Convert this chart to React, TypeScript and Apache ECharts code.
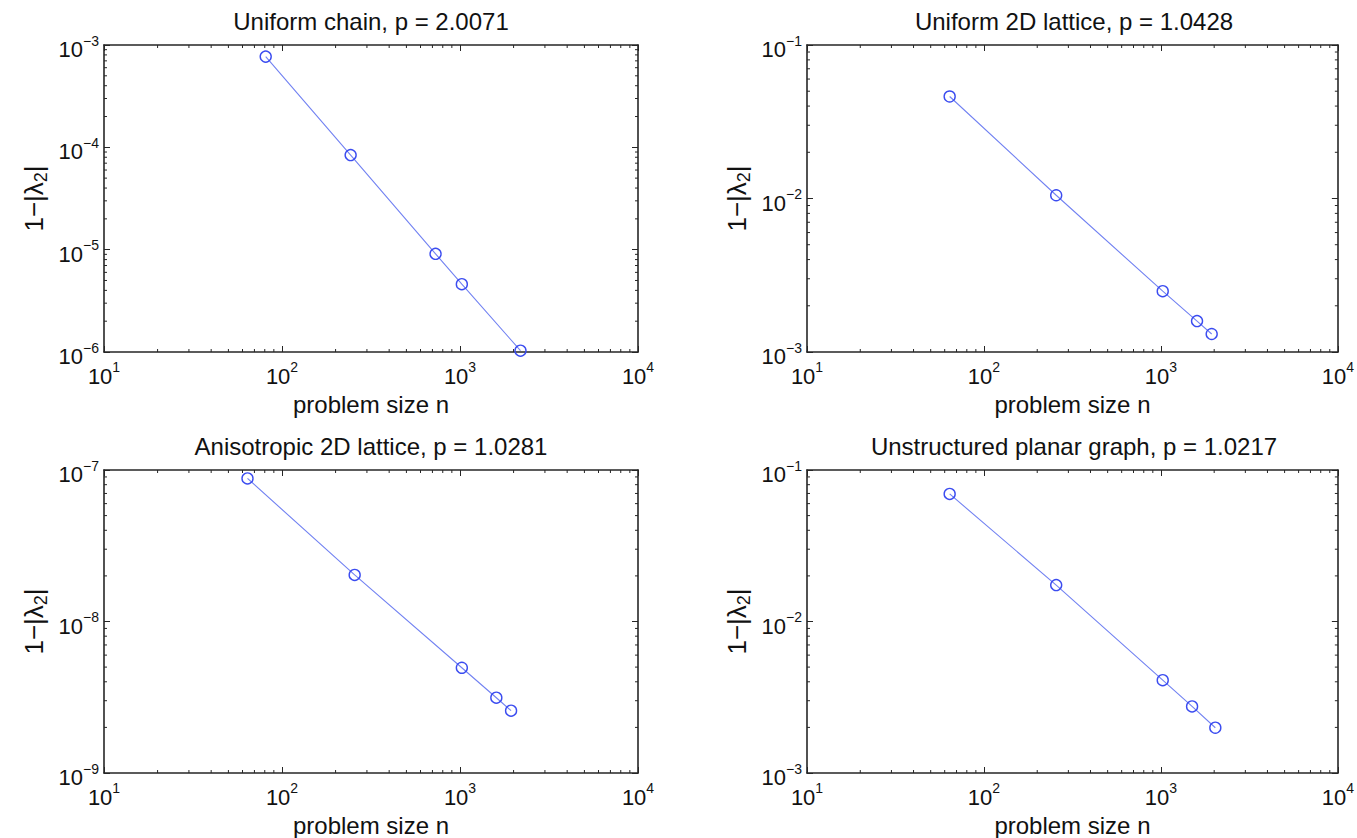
import React, { useEffect, useRef } from "react";
import * as echarts from "echarts";

// ---- data ----
const titles = [
  "Uniform chain, p = 2.0071",
  "Uniform 2D lattice, p = 1.0428",
  "Anisotropic 2D lattice, p = 1.0281",
  "Unstructured planar graph, p = 1.0217",
];
const chainN = [81, 243, 729, 1024, 2187];
const chainGap = [7.7e-4, 8.4e-5, 9.1e-6, 4.6e-6, 1.03e-6];
const latticeN = [64, 256, 1024, 1600, 1936];
const latticeGap = [0.0462, 0.0105, 0.00249, 0.00159, 0.00131];
const anisoN = [64, 256, 1024, 1600, 1936];
const anisoGap = [8.8e-8, 2.03e-8, 4.95e-9, 3.14e-9, 2.58e-9];
const planarN = [64, 256, 1024, 1500, 2030];
const planarGap = [0.0695, 0.0174, 0.0041, 0.00275, 0.00199];
const xRange = [10, 10000];
const yRanges = [
  [1e-6, 1e-3],
  [1e-3, 1e-1],
  [1e-9, 1e-7],
  [1e-3, 1e-1],
];
const xName = "problem size n";

const FONT = "'Liberation Sans', Arial, Helvetica, sans-serif";
const TXT = "#111";
const AX = "#262626";
const LINE = "#7282f2";
const MARK = "#3b4cf0";

const panels = [
  { n: chainN, v: chainGap, left: 104, top: 45, h: 307 },
  { n: latticeN, v: latticeGap, left: 807, top: 45, h: 307 },
  { n: anisoN, v: anisoGap, left: 104, top: 470, h: 304 },
  { n: planarN, v: planarGap, left: 807, top: 470, h: 304 },
];
const W = 534;

function expLabel(v: number) {
  const e = Math.round(Math.log10(v));
  return `{b|10}{s|${e < 0 ? "−" + -e : e}}`;
}

const rich = {
  b: { fontSize: 22, fontFamily: FONT, color: TXT, verticalAlign: "bottom", lineHeight: 23 },
  s: { fontSize: 14, fontFamily: FONT, color: TXT, verticalAlign: "bottom", lineHeight: 14, padding: [0, 0, 13, 0] },
};

function minorValues(lo: number, hi: number) {
  const out: number[] = [];
  const e0 = Math.round(Math.log10(lo));
  const e1 = Math.round(Math.log10(hi));
  for (let e = e0; e < e1; e++) {
    for (let k = 2; k <= 9; k++) out.push(k * Math.pow(10, e));
  }
  return out;
}

function buildOption() {
  const grid: any[] = [];
  const xAxis: any[] = [];
  const yAxis: any[] = [];
  const series: any[] = [];
  const graphic: any[] = [];

  panels.forEach((p, i) => {
    const [yMin, yMax] = yRanges[i];
    grid.push({ left: p.left, top: p.top, width: W, height: p.h, containLabel: false });
    const tickStyle = { show: true, inside: true, length: 6, lineStyle: { color: AX, width: 1 } };
    const lineStyle = { show: true, lineStyle: { color: AX, width: 1.6 } };
    xAxis.push({
      type: "log", logBase: 10, gridIndex: i, min: xRange[0], max: xRange[1], position: "bottom",
      axisLine: lineStyle, axisTick: tickStyle, splitLine: { show: false },
      axisLabel: { formatter: expLabel, rich, margin: 12 },
      name: xName, nameLocation: "middle", nameGap: 40,
      nameTextStyle: { fontSize: 24, fontFamily: FONT, color: TXT },
    });
    xAxis.push({
      type: "log", logBase: 10, gridIndex: i, min: xRange[0], max: xRange[1], position: "top",
      axisLine: lineStyle, axisTick: tickStyle, splitLine: { show: false }, axisLabel: { show: false },
    });
    yAxis.push({
      type: "log", logBase: 10, gridIndex: i, min: yMin, max: yMax, position: "left",
      axisLine: lineStyle, axisTick: tickStyle, splitLine: { show: false },
      axisLabel: { formatter: expLabel, rich, margin: 5, padding: [8, 0, 0, 0] },
      name: "{a|1−|λ}{u|2}{a||}", nameLocation: "middle", nameGap: 55, nameRotate: 90,
      nameTextStyle: {
        rich: {
          a: { fontSize: 26, fontFamily: FONT, color: TXT, verticalAlign: "top", lineHeight: 28 },
          u: { fontSize: 18, fontFamily: FONT, color: TXT, verticalAlign: "top", lineHeight: 19, padding: [11, 0, 0, 0] },
        },
      },
    });
    yAxis.push({
      type: "log", logBase: 10, gridIndex: i, min: yMin, max: yMax, position: "right",
      axisLine: lineStyle, axisTick: tickStyle, splitLine: { show: false }, axisLabel: { show: false },
    });

    series.push({
      type: "line",
      xAxisIndex: 2 * i,
      yAxisIndex: 2 * i,
      data: p.n.map((x, j) => [x, p.v[j]]),
      symbol: "circle",
      symbolSize: 11,
      showSymbol: true,
      lineStyle: { color: LINE, width: 1.1 },
      itemStyle: { color: "rgba(0,0,0,0)", borderColor: MARK, borderWidth: 1.4 },
      emphasis: { disabled: true },
      z: 5,
    });

    const xm = minorValues(xRange[0], xRange[1]);
    series.push({
      type: "custom",
      xAxisIndex: 2 * i,
      yAxisIndex: 2 * i,
      silent: true,
      data: xm.map((x) => [x, yMin]),
      renderItem: (params: any, api: any) => {
        const cs = params.coordSys;
        const pt = api.coord([api.value(0), api.value(1)]);
        const st = { stroke: AX, lineWidth: 1 };
        return {
          type: "group",
          children: [
            { type: "line", shape: { x1: pt[0], y1: cs.y + cs.height, x2: pt[0], y2: cs.y + cs.height - 3 }, style: st },
            { type: "line", shape: { x1: pt[0], y1: cs.y, x2: pt[0], y2: cs.y + 3 }, style: st },
          ],
        };
      },
    });
    const ym = minorValues(yMin, yMax);
    series.push({
      type: "custom",
      xAxisIndex: 2 * i,
      yAxisIndex: 2 * i,
      silent: true,
      data: ym.map((y) => [xRange[0], y]),
      renderItem: (params: any, api: any) => {
        const cs = params.coordSys;
        const pt = api.coord([api.value(0), api.value(1)]);
        const st = { stroke: AX, lineWidth: 1 };
        return {
          type: "group",
          children: [
            { type: "line", shape: { x1: cs.x, y1: pt[1], x2: cs.x + 3, y2: pt[1] }, style: st },
            { type: "line", shape: { x1: cs.x + cs.width, y1: pt[1], x2: cs.x + cs.width - 3, y2: pt[1] }, style: st },
          ],
        };
      },
    });

    graphic.push({
      type: "text",
      x: p.left + W / 2,
      y: p.top - 24,
      style: {
        text: titles[i],
        fontSize: 24,
        fontFamily: FONT,
        fill: TXT,
        textAlign: "center",
        textVerticalAlign: "middle",
      },
    });
  });

  return {
    animation: false,
    backgroundColor: "#ffffff",
    grid,
    xAxis,
    yAxis,
    series,
    graphic,
  };
}

export default function App() {
  const ref = useRef<HTMLDivElement>(null);
  useEffect(() => {
    if (!ref.current) return;
    const chart = echarts.init(ref.current, undefined, { renderer: "svg" });
    chart.setOption(buildOption() as any);
    return () => chart.dispose();
  }, []);
  return (
    <div
      ref={ref}
      style={{ position: "fixed", left: 0, top: 0, width: 1357, height: 838, background: "#fff" }}
    />
  );
}
